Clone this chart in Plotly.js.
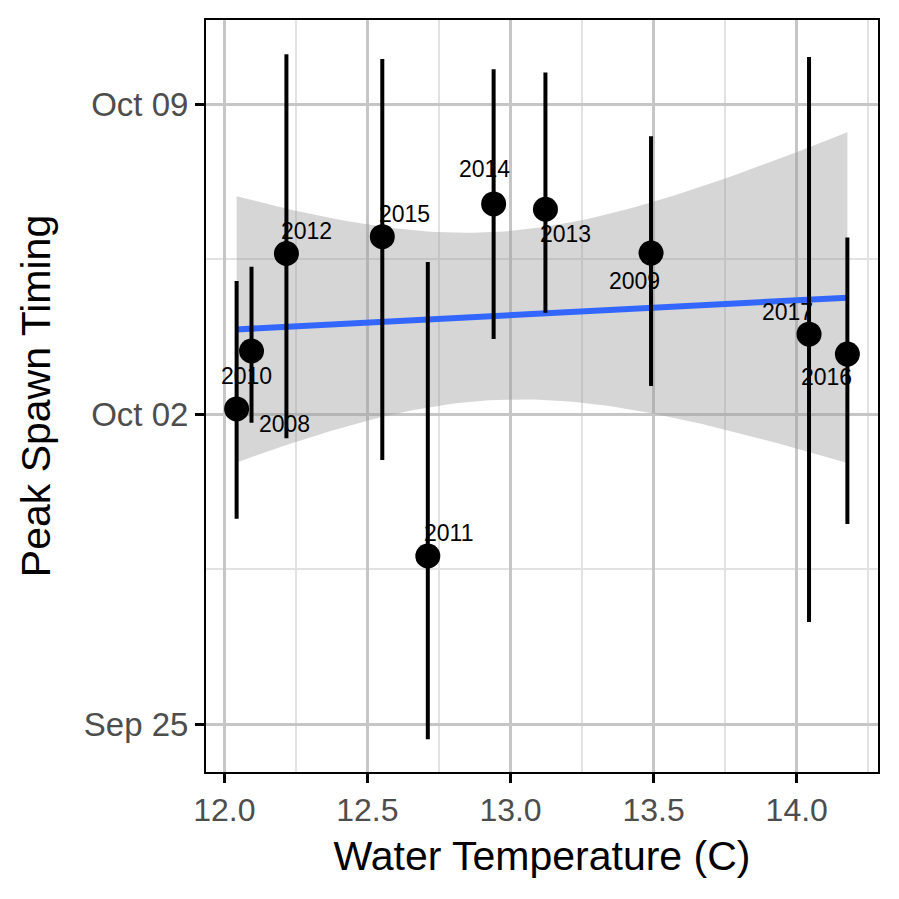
<!DOCTYPE html>
<html>
<head>
<meta charset="utf-8">
<script src="https://cdn.plot.ly/plotly-3.0.1.min.js"></script>
<style>html,body{margin:0;padding:0;background:#fff;}#chart{width:899px;height:899px;}</style>
</head>
<body>
<div id="chart"></div>
<script>
// ---- data ----
const years = ["2008","2009","2010","2011","2012","2013","2014","2015","2016","2017"];
const waterTemp = [12.095, 13.491, 12.043, 12.711, 12.217, 13.122, 12.941, 12.552, 14.177, 14.043];
const peakSpawn = ["2021-10-03 10:17","2021-10-05 15:22","2021-10-02 02:53","2021-09-28 19:12","2021-10-05 15:07",
                   "2021-10-06 15:07","2021-10-06 18:00","2021-10-06 00:14","2021-10-03 08:38","2021-10-03 19:26"];
const spawnLow  = ["2021-10-01 19:27","2021-10-02 15:22","2021-09-29 15:22","2021-09-24 15:50","2021-10-01 11:02",
                   "2021-10-04 06:58","2021-10-03 16:48","2021-09-30 23:17","2021-09-29 12:29","2021-09-27 07:26"];
const spawnHigh = ["2021-10-05 07:55","2021-10-08 06:43","2021-10-05 00:14","2021-10-05 10:34","2021-10-10 03:07",
                   "2021-10-09 17:17","2021-10-09 18:58","2021-10-10 00:29","2021-10-05 23:46","2021-10-10 01:41"];
const yTickVals = ["2021-09-25","2021-10-02","2021-10-09"];

// ---- label offsets (style, px) ----
const labelDx = [33, -17, 10, 21, 20, 20, -9, 22, -21, -22];
const labelDy = [73, 28, -33, -23, -23, 25, -35, -23, 23, -22];

const DAY = 86400000;
const toMs = s => Date.parse(s.replace(' ', 'T') + ':00Z');
const toStr = ms => new Date(ms).toISOString().slice(0, 19).replace('T', ' ');

// linear fit (lm) with 95% confidence band
const n = waterTemp.length;
const yd = peakSpawn.map(s => toMs(s) / DAY);
const mx = waterTemp.reduce((a, b) => a + b, 0) / n;
const my = yd.reduce((a, b) => a + b, 0) / n;
let sxx = 0, sxy = 0;
for (let i = 0; i < n; i++) { sxx += (waterTemp[i] - mx) ** 2; sxy += (waterTemp[i] - mx) * (yd[i] - my); }
const slope = sxy / sxx, icpt = my - slope * mx;
let sse = 0;
for (let i = 0; i < n; i++) sse += (yd[i] - (icpt + slope * waterTemp[i])) ** 2;
const sres = Math.sqrt(sse / (n - 2));
const tq = 2.306004; // t(0.975, df=8)
const xmin = Math.min(...waterTemp), xmax = Math.max(...waterTemp);
const fx = [], fy = [], up = [], lo = [];
for (let k = 0; k <= 80; k++) {
  const x = xmin + (xmax - xmin) * k / 80;
  const yh = icpt + slope * x;
  const se = sres * Math.sqrt(1 / n + (x - mx) ** 2 / sxx);
  fx.push(x); fy.push(toStr(yh * DAY));
  up.push(toStr((yh + tq * se) * DAY)); lo.push(toStr((yh - tq * se) * DAY));
}

const ribbon = {
  x: fx.concat(fx.slice().reverse()), y: up.concat(lo.slice().reverse()),
  type: 'scatter', mode: 'lines', fill: 'toself', fillcolor: 'rgba(153,153,153,0.4)',
  line: {width: 0, color: 'rgba(0,0,0,0)'}, hoverinfo: 'skip', showlegend: false
};
const fitLine = {x: fx, y: fy, type: 'scatter', mode: 'lines', line: {color: '#3366FF', width: 6}, showlegend: false};
const ex = [], ey = [];
for (let i = 0; i < n; i++) { ex.push(waterTemp[i], waterTemp[i], null); ey.push(spawnLow[i], spawnHigh[i], null); }
const bars = {x: ex, y: ey, type: 'scatter', mode: 'lines', line: {color: '#000', width: 4}, showlegend: false};
const pts = {x: waterTemp, y: peakSpawn, type: 'scatter', mode: 'markers',
  marker: {color: '#000', size: 25, line: {width: 0}}, showlegend: false};

const annotations = years.map((yr, i) => ({
  x: waterTemp[i], y: peakSpawn[i], text: yr, showarrow: false,
  xshift: labelDx[i], yshift: -labelDy[i],
  font: {family: 'Liberation Sans, Arial, sans-serif', size: 23, color: '#000'}
}));

const FONT = 'Liberation Sans, Arial, sans-serif';
const layout = {
  width: 899, height: 899,
  margin: {l: 206, r: 21, t: 20, b: 127},
  paper_bgcolor: '#fff', plot_bgcolor: '#fff',
  font: {family: FONT},
  xaxis: {
    range: [11.936, 14.284], tick0: 0, dtick: 0.5, tickformat: '.1f',
    showgrid: true, gridcolor: '#c6c6c6', gridwidth: 3,
    minor: {tick0: 0.25, dtick: 0.5, showgrid: true, gridcolor: '#e2e2e2', gridwidth: 2, ticklen: 0},
    zeroline: false, showline: true, linecolor: '#000', linewidth: 2, mirror: true,
    ticks: 'outside', ticklen: 9, tickwidth: 3, tickcolor: '#000',
    tickfont: {family: FONT, size: 32, color: '#4d4d4d'},
    title: {text: 'Water Temperature (C)', font: {family: FONT, size: 41, color: '#000'}, standoff: 14}
  },
  yaxis: {
    type: 'date', range: ['2021-09-23 22:09', '2021-10-10 21:40'],
    tickmode: 'array', tickvals: yTickVals, tickformat: '%b %d',
    showgrid: true, gridcolor: '#c6c6c6', gridwidth: 3,
    minor: {tick0: '2021-09-28 12:00', dtick: 7 * DAY, showgrid: true, gridcolor: '#e2e2e2', gridwidth: 2, ticklen: 0},
    zeroline: false, showline: true, linecolor: '#000', linewidth: 2, mirror: true,
    ticks: 'outside', ticklen: 9, tickwidth: 3, tickcolor: '#000',
    tickfont: {family: FONT, size: 33, color: '#4d4d4d'},
    title: {text: 'Peak Spawn Timing', font: {family: FONT, size: 41, color: '#000'}, standoff: 20}
  },
  annotations: annotations
};

Plotly.newPlot('chart', [ribbon, fitLine, bars, pts], layout, {staticPlot: true, displayModeBar: false});
</script>
</body>
</html>
